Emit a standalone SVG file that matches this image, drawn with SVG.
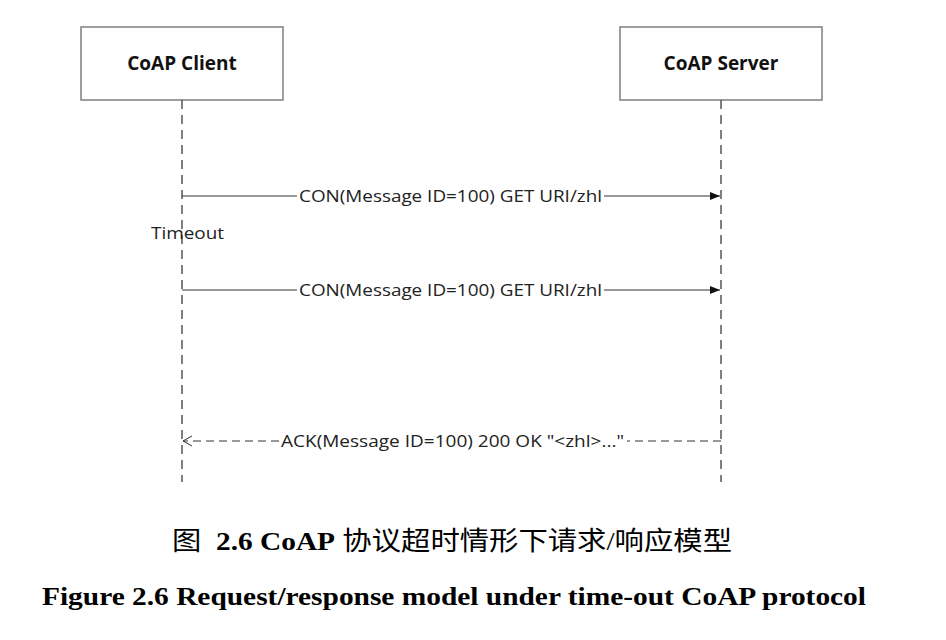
<svg xmlns="http://www.w3.org/2000/svg" width="946" height="640" viewBox="0 0 946 640">
<style>
.box{fill:#fff;stroke:#7f7f7f;stroke-width:1.5}
.title{font-family:"Open Sans","Noto Sans",sans-serif;font-weight:bold;font-size:19px;fill:#111;text-anchor:middle}
.life{stroke:#555;stroke-width:1.5;stroke-dasharray:9,6;fill:none}
.msg{stroke:#333;stroke-width:1;fill:none}
.dash{stroke:#333;stroke-width:1;stroke-dasharray:8,5;fill:none}
.lbl{font-family:"Open Sans","Noto Sans",sans-serif;font-size:17px;fill:#222}
.cap{font-family:"Liberation Serif","Noto Sans CJK SC",serif;font-size:26px;fill:#000}
</style>
<defs>
<marker id="solid" markerWidth="10" markerHeight="8" refX="10" refY="4" orient="auto" markerUnits="userSpaceOnUse">
<path d="M0,0 L10,4 L0,8 Z" fill="#111"/>
</marker>
</defs>
<rect width="946" height="640" fill="#fff"/>
<g id="client">
<rect class="box" x="81" y="27" width="202" height="73"/>
<text class="title" x="182" y="70">CoAP Client</text>
</g>
<g id="server">
<rect class="box" x="620" y="27" width="202" height="73"/>
<text class="title" x="721" y="70">CoAP Server</text>
</g>
<g id="lifelines">
<line class="life" x1="182" y1="100" x2="182" y2="482"/>
<line class="life" x1="721" y1="100" x2="721" y2="482"/>
</g>
<g id="connectors">
<line class="msg" x1="182" y1="196" x2="297" y2="196"/>
<line class="msg" x1="604" y1="196" x2="720" y2="196" marker-end="url(#solid)"/>
<text class="lbl" x="299" y="202" textLength="303" lengthAdjust="spacingAndGlyphs">CON(Message ID=100) GET URI/zhl</text>
<line class="msg" x1="182" y1="290" x2="297" y2="290"/>
<line class="msg" x1="604" y1="290" x2="720" y2="290" marker-end="url(#solid)"/>
<text class="lbl" x="299" y="296" textLength="303" lengthAdjust="spacingAndGlyphs">CON(Message ID=100) GET URI/zhl</text>
<line class="dash" x1="721" y1="441" x2="627" y2="441"/>
<line class="dash" x1="279" y1="441" x2="183" y2="441"/>
<path d="M192,436 L183,441 L192,446" fill="none" stroke="#333" stroke-width="1"/>
<text class="lbl" x="281" y="447" textLength="343" lengthAdjust="spacingAndGlyphs">ACK(Message ID=100) 200 OK "&lt;zhl&gt;..."</text>
</g>
<g id="timeout">
<text class="lbl" x="151" y="239" textLength="73" lengthAdjust="spacingAndGlyphs">Timeout</text>
</g>
<g id="caption">
<text class="cap" x="172" y="550" textLength="560" lengthAdjust="spacingAndGlyphs" xml:space="preserve">图  <tspan font-weight="bold">2.6 CoAP</tspan> 协议超时情形下请求/响应模型</text>
<text class="cap" x="42" y="605" font-weight="bold" textLength="824" lengthAdjust="spacingAndGlyphs">Figure 2.6 Request/response model under time-out CoAP protocol</text>
</g>
</svg>
